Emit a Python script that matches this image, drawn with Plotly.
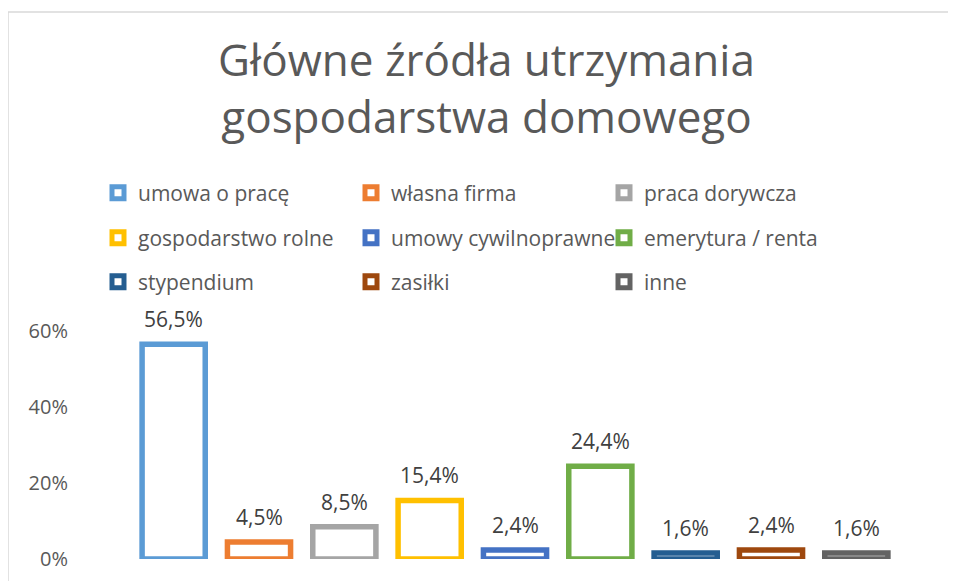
import plotly.graph_objects as go

# dane z wykresu
kategorie = ["umowa o pracę", "własna firma", "praca dorywcza",
             "gospodarstwo rolne", "umowy cywilnoprawne", "emerytura / renta",
             "stypendium", "zasiłki", "inne"]
wartosci = [0.565, 0.045, 0.085, 0.154, 0.024, 0.244, 0.016, 0.024, 0.016]
kolory = ["#5B9BD5", "#ED7D31", "#A5A5A5", "#FFC000", "#4472C4",
          "#70AD47", "#255E91", "#9E480E", "#636363"]
osie_y = [0, 0.2, 0.4, 0.6]

# strona ma margines 8 px, wiec figura jest o 8 px mniejsza
OFF = 8
W, H = 956 - OFF, 581 - OFF
# obszar wykresu w pikselach strony
L, R, T, B = 131, 899, 331, 559
FONT = "Open Sans"
SZARY = "#595959"

def px_x(x):
    return (x - L) / (R - L)

def px_y(y):
    return (B - y) / (B - T)

fig = go.Figure()

# trzy wiersze legendy -> trzy osobne legendy
legendy = ["legend", "legend2", "legend3"]
for i, (k, v, c) in enumerate(zip(kategorie, wartosci, kolory)):
    fig.add_trace(go.Bar(
        x=[k], y=[v],
        name=k,
        width=0.74,
        marker=dict(color="white", line=dict(color=c, width=5.5)),
        legend=legendy[i // 3],
        hoverinfo="x+y",
    ))
    fig.add_annotation(
        x=k, y=v, xref="x", yref="y",
        text=f"{v * 100:.1f}%".replace(".", ","),
        showarrow=False, yanchor="bottom", yshift=9,
        font=dict(family=FONT, size=21, color="#404040"),
    )

wiersze_y = [193, 238, 282]
leg_common = dict(
    orientation="h", entrywidth=208, itemwidth=30,
    font=dict(family=FONT, size=21, color=SZARY),
    bgcolor="rgba(0,0,0,0)", xanchor="left", yanchor="middle",
    traceorder="normal", itemclick=False, itemdoubleclick=False,
)
legend_layout = {}
for name, yy in zip(legendy, wiersze_y):
    legend_layout[name] = dict(leg_common, x=px_x(98), y=px_y(yy))

# ramka wykresu
fig.add_shape(type="rect", xref="paper", yref="paper",
              x0=px_x(8), x1=px_x(980), y0=px_y(600), y1=px_y(12),
              line=dict(color="#D9D9D9", width=1.5), fillcolor="rgba(0,0,0,0)",
              layer="below")

fig.update_layout(
    width=W, height=H,
    margin=dict(l=L - OFF, r=956 - R, t=T - OFF, b=581 - B, pad=0,
                autoexpand=False),
    paper_bgcolor="white", plot_bgcolor="white",
    barmode="overlay",
    separators=", ",
    showlegend=True,
    title=dict(
        text="Główne źródła utrzymania<br>gospodarstwa domowego",
        x=(486.5 - OFF) / W, xanchor="center", y=1 - 68 / H, yanchor="top",
        font=dict(family=FONT, size=44, color=SZARY),
    ),
    xaxis=dict(range=[-0.5, 8.5], showticklabels=False, showgrid=False,
               zeroline=False, showline=False, fixedrange=True),
    yaxis=dict(range=[0, 0.6], tickvals=osie_y, tickformat=".0%",
               showgrid=False, zeroline=False, showline=False,
               ticklabelstandoff=62, automargin=False,
               tickfont=dict(family=FONT, size=20, color=SZARY),
               fixedrange=True),
    **legend_layout,
)

fig.write_html("out.html")
